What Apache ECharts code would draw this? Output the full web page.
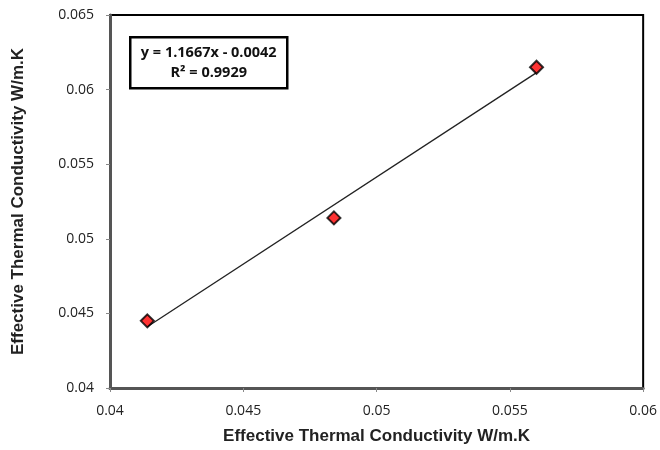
<!DOCTYPE html>
<html><head><meta charset="utf-8">
<script src="https://cdn.jsdelivr.net/npm/echarts@6/dist/echarts.min.js"></script>
<style>html,body{margin:0;padding:0;background:#fff}#c{width:660px;height:450px}</style>
</head><body><div id="c"></div>
<script>
var xValues = [0.0414, 0.0484, 0.0560];
var yValues = [0.0445, 0.0514, 0.0615];
var slope = 1.1667, intercept = -0.0042;
var equationText = 'y = 1.1667x - 0.0042';
var r2Text = 'R² = 0.9929';
var xTickLabels = ['0.04', '0.045', '0.05', '0.055', '0.06'];
var yTickLabels = ['0.04', '0.045', '0.05', '0.055', '0.06', '0.065'];
var axisTitle = 'Effective Thermal Conductivity W/m.K';

var pts = xValues.map(function(x, i){ return [x, yValues[i]]; });
var xmin = Math.min.apply(null, xValues), xmax = Math.max.apply(null, xValues);
var trend = [[xmin, slope*xmin + intercept], [xmax, slope*xmax + intercept]];
function fmt(list){ return function(v){ var s = String(parseFloat(v.toFixed(4))); return list.indexOf(s) >= 0 ? s : ''; }; }

var chart = echarts.init(document.getElementById('c'));
chart.setOption({
  animation: false,
  grid: {left: 110, right: 16, top: 15, bottom: 61, show: true, borderColor: '#000', borderWidth: 2, backgroundColor: '#fff'},
  xAxis: {type: 'value', min: 0.04, max: 0.06, interval: 0.005,
    name: axisTitle, nameLocation: 'middle', nameGap: 40,
    nameTextStyle: {fontFamily: 'Liberation Sans', fontWeight: 'bold', fontSize: 17, color: '#222'},
    axisLine: {show: true, lineStyle: {color: '#555', width: 3}},
    axisTick: {show: true, length: 4, lineStyle: {color: '#888'}},
    axisLabel: {formatter: fmt(xTickLabels), fontFamily: 'Open Sans', fontSize: 14, color: '#222', margin: 16},
    splitLine: {show: false}},
  yAxis: {type: 'value', min: 0.04, max: 0.065, interval: 0.005,
    name: axisTitle, nameLocation: 'middle', nameGap: 83, nameRotate: 90,
    nameTextStyle: {fontFamily: 'Liberation Sans', fontWeight: 'bold', fontSize: 17, color: '#222'},
    axisLine: {show: true, lineStyle: {color: '#555', width: 3}},
    axisTick: {show: true, length: 4, lineStyle: {color: '#888'}},
    axisLabel: {formatter: fmt(yTickLabels), fontFamily: 'Open Sans', fontSize: 14, color: '#222', margin: 16},
    splitLine: {show: false}},
  series: [
    {type: 'line', data: trend, symbol: 'none', lineStyle: {color: '#222', width: 1.3}, z: 2},
    {type: 'scatter', data: pts, symbol: 'diamond', symbolSize: 13,
      itemStyle: {color: '#ff0000', borderColor: '#000', borderWidth: 2}, z: 3}
  ],
  graphic: [{type: 'group', left: 129, top: 36, children: [
    {type: 'rect', shape: {x: 0, y: 0, width: 157, height: 51}, style: {fill: '#fff', stroke: '#000', lineWidth: 2.5}},
    {type: 'text', style: {x: 78.5, y: 16, text: equationText, align: 'center', verticalAlign: 'middle', font: 'bold 14.5px "Open Sans"', fill: '#111'}},
    {type: 'text', style: {x: 78.5, y: 36, text: r2Text, align: 'center', verticalAlign: 'middle', font: 'bold 14.5px "Open Sans"', fill: '#111'}}
  ]}]
});
</script></body></html>
